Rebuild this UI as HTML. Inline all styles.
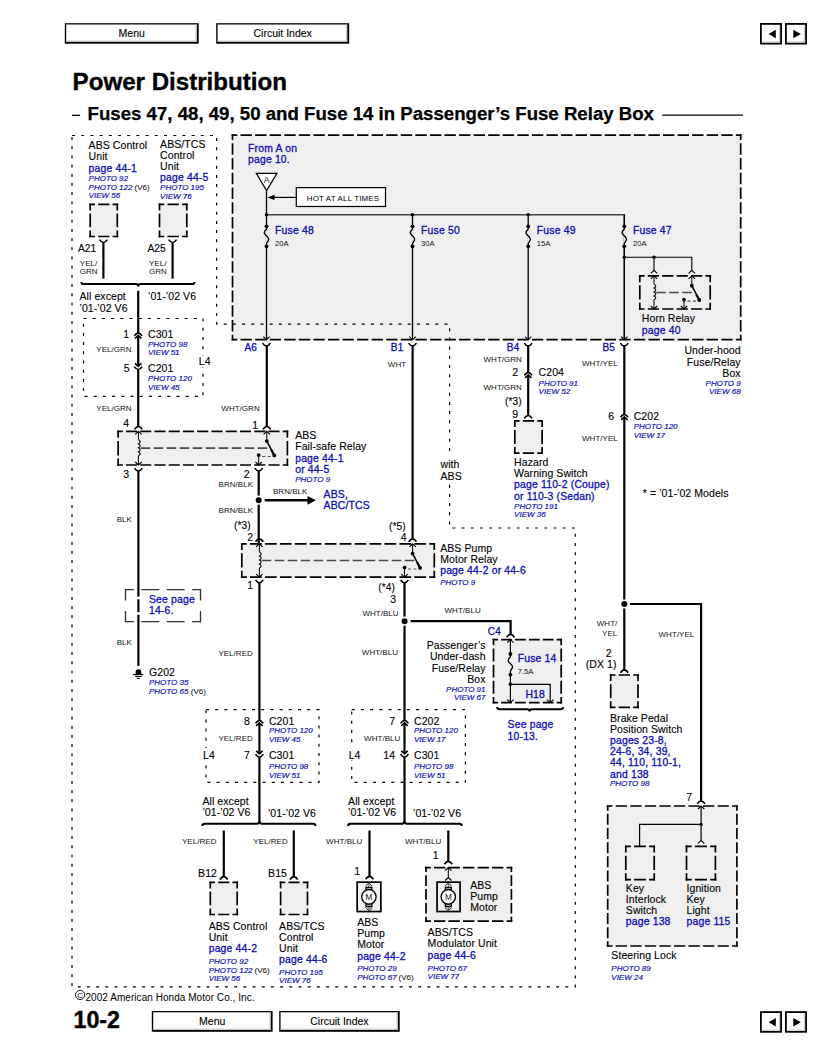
<!DOCTYPE html>
<html><head><meta charset="utf-8"><style>
html,body{margin:0;padding:0;background:#fff;width:816px;height:1056px;overflow:hidden}
svg{display:block}
text{font-family:"Liberation Sans",sans-serif}
</style></head><body>
<svg width="816" height="1056" viewBox="0 0 816 1056">
<rect x="64.8" y="23.2" width="133.89999999999998" height="20.500000000000004" fill="#000"/>
<rect x="66.2" y="24.5" width="130.49999999999997" height="17.200000000000003" fill="#fff"/>
<rect x="66.2" y="40.5" width="130.49999999999997" height="1.2" fill="#c8c8c8"/>
<rect x="195.5" y="24.5" width="1.2" height="17.200000000000003" fill="#c8c8c8"/>
<text x="131.75" y="37.10" style="font-size:10.5px;" fill="#000" text-anchor="middle" letter-spacing="0" stroke="#000" stroke-width="0.12">Menu</text>
<rect x="216.2" y="23.2" width="133.0" height="20.500000000000004" fill="#000"/>
<rect x="217.6" y="24.5" width="129.6" height="17.200000000000003" fill="#fff"/>
<rect x="217.6" y="40.5" width="129.6" height="1.2" fill="#c8c8c8"/>
<rect x="346.0" y="24.5" width="1.2" height="17.200000000000003" fill="#c8c8c8"/>
<text x="282.7" y="37.10" style="font-size:10.5px;" fill="#000" text-anchor="middle" letter-spacing="0" stroke="#000" stroke-width="0.12">Circuit Index</text>
<rect x="760.9" y="23.9" width="20.2" height="19.7" fill="#fff" stroke="#000" stroke-width="1.8"/>
<line x1="762.5" y1="41.9" x2="780" y2="41.9" stroke="#c8c8c8" stroke-width="1"/>
<line x1="779.4" y1="25.5" x2="779.4" y2="42.5" stroke="#c8c8c8" stroke-width="1"/>
<path d="M768.7,34 L775.8,29.8 L775.8,38.2 Z" fill="#000"/>
<rect x="785.9" y="23.9" width="20.2" height="19.7" fill="#fff" stroke="#000" stroke-width="1.8"/>
<line x1="787.5" y1="41.9" x2="805" y2="41.9" stroke="#c8c8c8" stroke-width="1"/>
<line x1="804.4" y1="25.5" x2="804.4" y2="42.5" stroke="#c8c8c8" stroke-width="1"/>
<path d="M793.3,29.8 L800.8,34 L793.3,38.2 Z" fill="#000"/>
<text x="72.6" y="90.10" style="font-size:23.6px;font-weight:bold;" fill="#000" textLength="214.4" lengthAdjust="spacingAndGlyphs" stroke="#000" stroke-width="0.35">Power Distribution</text>
<line x1="72" y1="115.3" x2="80.1" y2="115.3" stroke="#000" stroke-width="1.3" />
<text x="87.6" y="119.90" style="font-size:18.9px;font-weight:bold;" fill="#000" textLength="566.4" lengthAdjust="spacingAndGlyphs" stroke="#000" stroke-width="0.25">Fuses 47, 48, 49, 50 and Fuse 14 in Passenger&#8217;s Fuse Relay Box</text>
<line x1="662.3" y1="115.2" x2="743" y2="115.2" stroke="#000" stroke-width="1.2" />
<rect x="232.5" y="135.2" width="508.20000000000005" height="204.5" fill="#efefef"/>
<path d="M231.65,135.20L237.33,135.20M240.53,135.20L251.90,135.20M255.10,135.20L266.47,135.20M269.67,135.20L281.04,135.20M284.24,135.20L295.61,135.20M298.81,135.20L310.18,135.20M313.38,135.20L324.75,135.20M327.95,135.20L339.31,135.20M342.51,135.20L353.88,135.20M357.08,135.20L368.45,135.20M371.65,135.20L383.02,135.20M386.22,135.20L397.59,135.20M400.79,135.20L412.16,135.20M415.36,135.20L426.73,135.20M429.93,135.20L441.29,135.20M444.49,135.20L455.86,135.20M459.06,135.20L470.43,135.20M473.63,135.20L485.00,135.20M488.20,135.20L499.57,135.20M502.77,135.20L514.14,135.20M517.34,135.20L528.71,135.20M531.91,135.20L543.27,135.20M546.47,135.20L557.84,135.20M561.04,135.20L572.41,135.20M575.61,135.20L586.98,135.20M590.18,135.20L601.55,135.20M604.75,135.20L616.12,135.20M619.32,135.20L630.69,135.20M633.89,135.20L645.25,135.20M648.45,135.20L659.82,135.20M663.02,135.20L674.39,135.20M677.59,135.20L688.96,135.20M692.16,135.20L703.53,135.20M706.73,135.20L718.10,135.20M721.30,135.20L732.67,135.20M735.87,135.20L741.55,135.20" stroke="#000" stroke-width="1.7" fill="none" stroke-linecap="butt"/>
<path d="M231.65,339.70L237.33,339.70M240.53,339.70L251.90,339.70M255.10,339.70L266.47,339.70M269.67,339.70L281.04,339.70M284.24,339.70L295.61,339.70M298.81,339.70L310.18,339.70M313.38,339.70L324.75,339.70M327.95,339.70L339.31,339.70M342.51,339.70L353.88,339.70M357.08,339.70L368.45,339.70M371.65,339.70L383.02,339.70M386.22,339.70L397.59,339.70M400.79,339.70L412.16,339.70M415.36,339.70L426.73,339.70M429.93,339.70L441.29,339.70M444.49,339.70L455.86,339.70M459.06,339.70L470.43,339.70M473.63,339.70L485.00,339.70M488.20,339.70L499.57,339.70M502.77,339.70L514.14,339.70M517.34,339.70L528.71,339.70M531.91,339.70L543.27,339.70M546.47,339.70L557.84,339.70M561.04,339.70L572.41,339.70M575.61,339.70L586.98,339.70M590.18,339.70L601.55,339.70M604.75,339.70L616.12,339.70M619.32,339.70L630.69,339.70M633.89,339.70L645.25,339.70M648.45,339.70L659.82,339.70M663.02,339.70L674.39,339.70M677.59,339.70L688.96,339.70M692.16,339.70L703.53,339.70M706.73,339.70L718.10,339.70M721.30,339.70L732.67,339.70M735.87,339.70L741.55,339.70" stroke="#000" stroke-width="1.7" fill="none" stroke-linecap="butt"/>
<path d="M232.50,134.35L232.50,140.11M232.50,143.31L232.50,154.84M232.50,158.04L232.50,169.57M232.50,172.77L232.50,184.30M232.50,187.50L232.50,199.03M232.50,202.23L232.50,213.76M232.50,216.96L232.50,228.49M232.50,231.69L232.50,243.21M232.50,246.41L232.50,257.94M232.50,261.14L232.50,272.67M232.50,275.87L232.50,287.40M232.50,290.60L232.50,302.13M232.50,305.33L232.50,316.86M232.50,320.06L232.50,331.59M232.50,334.79L232.50,340.55" stroke="#000" stroke-width="1.7" fill="none" stroke-linecap="butt"/>
<path d="M740.70,134.35L740.70,140.11M740.70,143.31L740.70,154.84M740.70,158.04L740.70,169.57M740.70,172.77L740.70,184.30M740.70,187.50L740.70,199.03M740.70,202.23L740.70,213.76M740.70,216.96L740.70,228.49M740.70,231.69L740.70,243.21M740.70,246.41L740.70,257.94M740.70,261.14L740.70,272.67M740.70,275.87L740.70,287.40M740.70,290.60L740.70,302.13M740.70,305.33L740.70,316.86M740.70,320.06L740.70,331.59M740.70,334.79L740.70,340.55" stroke="#000" stroke-width="1.7" fill="none" stroke-linecap="butt"/>
<polyline points="72,135.5 216.6,135.5 216.6,324.2 449.6,324.2 449.6,528 575.3,528 575.3,986.8 72,986.8 72,135.5" fill="none" stroke="#000" stroke-width="1.2" stroke-dasharray="3 6.2"/>
<text x="248" y="152.40" style="font-size:10.4px;" fill="#0e0eb8" stroke="#0e0eb8" stroke-width="0.3" letter-spacing="0.2">From A on</text>
<text x="248" y="163.40" style="font-size:10.4px;" fill="#0e0eb8" stroke="#0e0eb8" stroke-width="0.3" letter-spacing="0.18">page 10.</text>
<path d="M256.3,173.3 L277,173.3 L266.6,190.5 Z" fill="#fff" stroke="#000" stroke-width="1.2"/>
<text x="266.6" y="183.00" style="font-size:8.6px;" fill="#111" text-anchor="middle" letter-spacing="0">A</text>
<line x1="266.5" y1="190.5" x2="266.5" y2="339.7" stroke="#000" stroke-width="1.3" />
<rect x="296.3" y="187.6" width="89.2" height="18.9" fill="#fff" stroke="#000" stroke-width="1.2"/>
<text x="306.8" y="201.10" style="font-size:7.9px;" fill="#000" letter-spacing="0.2">HOT AT ALL TIMES</text>
<line x1="272" y1="197.4" x2="296.3" y2="197.4" stroke="#000" stroke-width="1.2" />
<path d="M267.5,197.4 L274.5,194.8 L274.5,200 Z" fill="#000"/>
<polyline points="266.5,214.8 624.3,214.8 624.3,339.7" fill="none" stroke="#444" stroke-width="1.5" stroke-linejoin="miter"/>
<circle cx="266.5" cy="214.8" r="1.8" fill="#000"/>
<circle cx="412.5" cy="214.8" r="1.8" fill="#000"/>
<circle cx="528.2" cy="214.8" r="1.8" fill="#000"/>
<line x1="412.5" y1="214.8" x2="412.5" y2="339.7" stroke="#000" stroke-width="1.3" />
<line x1="528.2" y1="214.8" x2="528.2" y2="339.7" stroke="#000" stroke-width="1.3" />
<line x1="624.3" y1="214.8" x2="624.3" y2="339.7" stroke="#000" stroke-width="1.3" />
<rect x="265.5" y="226" width="2" height="21" fill="#efefef"/>
<path d="M266.5,226.3 L266.5,229.3 C265.0,230.5 263.9,232.0 264.4,233.5 C265.0,235.20000000000002 268.6,237.0 268.7,239.0 C268.8,241.0 266.5,242.3 266.5,243.8 L266.5,246.3" fill="none" stroke="#000" stroke-width="1.3"/>
<circle cx="266.5" cy="226.3" r="1.9" fill="#000"/>
<circle cx="266.5" cy="246.3" r="1.9" fill="#000"/>
<text x="275.1" y="234.20" style="font-size:10.4px;" fill="#0e0eb8" stroke="#0e0eb8" stroke-width="0.3" letter-spacing="0.18">Fuse 48</text>
<text x="275.1" y="245.90" style="font-size:7.6px;" fill="#111"  letter-spacing="0.03">20A</text>
<rect x="411.5" y="226" width="2" height="21" fill="#efefef"/>
<path d="M412.5,226.3 L412.5,229.3 C411.0,230.5 409.9,232.0 410.4,233.5 C411.0,235.20000000000002 414.6,237.0 414.7,239.0 C414.8,241.0 412.5,242.3 412.5,243.8 L412.5,246.3" fill="none" stroke="#000" stroke-width="1.3"/>
<circle cx="412.5" cy="226.3" r="1.9" fill="#000"/>
<circle cx="412.5" cy="246.3" r="1.9" fill="#000"/>
<text x="421.1" y="234.20" style="font-size:10.4px;" fill="#0e0eb8" stroke="#0e0eb8" stroke-width="0.3" letter-spacing="0.18">Fuse 50</text>
<text x="421.1" y="245.90" style="font-size:7.6px;" fill="#111"  letter-spacing="0.03">30A</text>
<rect x="527.2" y="226" width="2" height="21" fill="#efefef"/>
<path d="M528.2,226.3 L528.2,229.3 C526.7,230.5 525.6,232.0 526.1,233.5 C526.7,235.20000000000002 530.3000000000001,237.0 530.4000000000001,239.0 C530.5,241.0 528.2,242.3 528.2,243.8 L528.2,246.3" fill="none" stroke="#000" stroke-width="1.3"/>
<circle cx="528.2" cy="226.3" r="1.9" fill="#000"/>
<circle cx="528.2" cy="246.3" r="1.9" fill="#000"/>
<text x="536.8000000000001" y="234.20" style="font-size:10.4px;" fill="#0e0eb8" stroke="#0e0eb8" stroke-width="0.3" letter-spacing="0.18">Fuse 49</text>
<text x="536.8000000000001" y="245.90" style="font-size:7.6px;" fill="#111"  letter-spacing="0.03">15A</text>
<rect x="623.3" y="226" width="2" height="21" fill="#efefef"/>
<path d="M624.3,226.3 L624.3,229.3 C622.8,230.5 621.6999999999999,232.0 622.1999999999999,233.5 C622.8,235.20000000000002 626.4,237.0 626.5,239.0 C626.5999999999999,241.0 624.3,242.3 624.3,243.8 L624.3,246.3" fill="none" stroke="#000" stroke-width="1.3"/>
<circle cx="624.3" cy="226.3" r="1.9" fill="#000"/>
<circle cx="624.3" cy="246.3" r="1.9" fill="#000"/>
<text x="632.9" y="234.20" style="font-size:10.4px;" fill="#0e0eb8" stroke="#0e0eb8" stroke-width="0.3" letter-spacing="0.18">Fuse 47</text>
<text x="632.9" y="245.90" style="font-size:7.6px;" fill="#111"  letter-spacing="0.03">20A</text>
<circle cx="624.3" cy="257.2" r="1.7" fill="#000"/>
<circle cx="654" cy="257.2" r="1.7" fill="#000"/>
<polyline points="624.3,257.2 691.8,257.2 691.8,270.3" fill="none" stroke="#000" stroke-width="1.1" stroke-linejoin="miter"/>
<line x1="654" y1="257.2" x2="654" y2="270.3" stroke="#000" stroke-width="1.1" />
<path d="M650.8,273.3 L654,270.3 L657.2,273.3" fill="none" stroke="#000" stroke-width="1.1"/>
<path d="M688.5999999999999,273.3 L691.8,270.3 L695.0,273.3" fill="none" stroke="#000" stroke-width="1.1"/>
<rect x="639.8" y="275.9" width="70.40000000000009" height="33.10000000000002" fill="#efefef"/>
<path d="M638.95,275.90L644.56,275.90M647.76,275.90L658.98,275.90M662.18,275.90L673.40,275.90M676.60,275.90L687.82,275.90M691.02,275.90L702.24,275.90M705.44,275.90L711.05,275.90" stroke="#000" stroke-width="1.7" fill="none" stroke-linecap="butt"/>
<path d="M638.95,309.00L644.56,309.00M647.76,309.00L658.98,309.00M662.18,309.00L673.40,309.00M676.60,309.00L687.82,309.00M691.02,309.00L702.24,309.00M705.44,309.00L711.05,309.00" stroke="#000" stroke-width="1.7" fill="none" stroke-linecap="butt"/>
<path d="M639.80,275.05L639.80,282.15M639.80,285.35L639.80,299.55M639.80,302.75L639.80,309.85" stroke="#000" stroke-width="1.7" fill="none" stroke-linecap="butt"/>
<path d="M710.20,275.05L710.20,282.15M710.20,285.35L710.20,299.55M710.20,302.75L710.20,309.85" stroke="#000" stroke-width="1.7" fill="none" stroke-linecap="butt"/>
<line x1="656.3" y1="292.45" x2="694.5999999999999" y2="292.45" stroke="#4a4a4a" stroke-width="1.6" stroke-dasharray="9.5 3.5"/>
<line x1="654" y1="275.9" x2="654" y2="284.2" stroke="#000" stroke-width="1.0" />
<path d="M654,284.2 Q657.6,286.15 654,288.1 Q657.6,290.05 654,292.0 Q657.6,293.95 654,295.9 Q657.6,297.84999999999997 654,299.79999999999995" fill="none" stroke="#000" stroke-width="1.1"/>
<line x1="654" y1="299.8" x2="654" y2="309" stroke="#000" stroke-width="1.0" />
<path d="M650.8,278.9 L654,275.9 L657.2,278.9" fill="none" stroke="#000" stroke-width="1.1"/>
<path d="M650.8,306 L654,309 L657.2,306" fill="none" stroke="#000" stroke-width="1.1"/>
<path d="M688.5999999999999,278.9 L691.8,275.9 L695.0,278.9" fill="none" stroke="#000" stroke-width="1.1"/>
<line x1="691.8" y1="275.9" x2="691.8" y2="285.7" stroke="#000" stroke-width="1.0" />
<circle cx="691.8" cy="285.7" r="1.9" fill="#000"/>
<line x1="691.8" y1="285.7" x2="699.3" y2="300.0" stroke="#000" stroke-width="1.5" />
<line x1="696.3" y1="294.4" x2="699.3" y2="300.0" stroke="#000" stroke-width="2.2" />
<circle cx="699.3" cy="300.0" r="1.9" fill="#000"/>
<circle cx="684" cy="299.7" r="1.9" fill="#000"/>
<line x1="684" y1="299.7" x2="684" y2="309" stroke="#000" stroke-width="1.0" />
<path d="M680.8,306 L684,309 L687.2,306" fill="none" stroke="#000" stroke-width="1.1"/>
<line x1="687.5" y1="301.09999999999997" x2="697.8" y2="301.09999999999997" stroke="#555" stroke-width="1.2" stroke-dasharray="3 2.5"/>
<text x="641.8" y="321.80" style="font-size:10.5px;" fill="#000"  letter-spacing="0.08" stroke="#000" stroke-width="0.12">Horn Relay</text>
<text x="641.8" y="334.10" style="font-size:10.4px;" fill="#0e0eb8" stroke="#0e0eb8" stroke-width="0.3" letter-spacing="0.18">page 40</text>
<path d="M263.3,336.7 L266.5,339.7 L269.7,336.7" fill="none" stroke="#000" stroke-width="1.1"/>
<path d="M262.6,343.1 Q266.5,348.9 270.4,343.1" fill="none" stroke="#000" stroke-width="1.7"/>
<path d="M409.3,336.7 L412.5,339.7 L415.7,336.7" fill="none" stroke="#000" stroke-width="1.1"/>
<path d="M408.6,343.1 Q412.5,348.9 416.4,343.1" fill="none" stroke="#000" stroke-width="1.7"/>
<path d="M525.0,336.7 L528.2,339.7 L531.4000000000001,336.7" fill="none" stroke="#000" stroke-width="1.1"/>
<path d="M524.3000000000001,343.1 Q528.2,348.9 532.1,343.1" fill="none" stroke="#000" stroke-width="1.7"/>
<path d="M621.0999999999999,336.7 L624.3,339.7 L627.5,336.7" fill="none" stroke="#000" stroke-width="1.1"/>
<path d="M620.4,343.1 Q624.3,348.9 628.1999999999999,343.1" fill="none" stroke="#000" stroke-width="1.7"/>
<text x="244.5" y="350.90" style="font-size:10px;" fill="#0e0eb8" stroke="#0e0eb8" stroke-width="0.3" letter-spacing="0.18">A6</text>
<text x="390.8" y="351.40" style="font-size:10px;" fill="#0e0eb8" stroke="#0e0eb8" stroke-width="0.3" letter-spacing="0.18">B1</text>
<text x="506.8" y="350.70" style="font-size:10px;" fill="#0e0eb8" stroke="#0e0eb8" stroke-width="0.3" letter-spacing="0.18">B4</text>
<text x="602.4" y="351.20" style="font-size:10px;" fill="#0e0eb8" stroke="#0e0eb8" stroke-width="0.3" letter-spacing="0.18">B5</text>
<text x="740.6800000000001" y="354.10" style="font-size:10.5px;" fill="#000" text-anchor="end"  letter-spacing="0.08" stroke="#000" stroke-width="0.12">Under-hood</text>
<text x="740.6800000000001" y="365.70" style="font-size:10.5px;" fill="#000" text-anchor="end"  letter-spacing="0.08" stroke="#000" stroke-width="0.12">Fuse/Relay</text>
<text x="740.6800000000001" y="377.10" style="font-size:10.5px;" fill="#000" text-anchor="end"  letter-spacing="0.08" stroke="#000" stroke-width="0.12">Box</text>
<text x="740.6" y="385.90" style="font-size:8px;font-style:italic;" fill="#0e0eb8" text-anchor="end" stroke="#0e0eb8" stroke-width="0.18" letter-spacing="0">PHOTO 9</text>
<text x="740.6" y="394.40" style="font-size:8px;font-style:italic;" fill="#0e0eb8" text-anchor="end" stroke="#0e0eb8" stroke-width="0.18" letter-spacing="0">VIEW 68</text>
<text x="88.6" y="148.80" style="font-size:10.5px;" fill="#000"  letter-spacing="0.08" stroke="#000" stroke-width="0.12">ABS Control</text>
<text x="88.6" y="159.80" style="font-size:10.5px;" fill="#000"  letter-spacing="0.08" stroke="#000" stroke-width="0.12">Unit</text>
<text x="88.6" y="171.80" style="font-size:10.4px;" fill="#0e0eb8" stroke="#0e0eb8" stroke-width="0.3" letter-spacing="0.18">page 44-1</text>
<text x="88.6" y="180.90" style="font-size:8px;font-style:italic;" fill="#0e0eb8" stroke="#0e0eb8" stroke-width="0.18" letter-spacing="0">PHOTO 92</text>
<text x="88.6" y="189.90" style="font-size:8px;font-style:italic;" fill="#0e0eb8" stroke="#0e0eb8" stroke-width="0.18" letter-spacing="0">PHOTO 122</text>
<text x="134.5" y="189.90" style="font-size:8px;" fill="#000"  letter-spacing="0.03">(V6)</text>
<text x="88.6" y="198.00" style="font-size:8px;font-style:italic;" fill="#0e0eb8" stroke="#0e0eb8" stroke-width="0.18" letter-spacing="0">VIEW 56</text>
<text x="160.1" y="148.30" style="font-size:10.5px;" fill="#000"  letter-spacing="0.08" stroke="#000" stroke-width="0.12">ABS/TCS</text>
<text x="160.1" y="158.80" style="font-size:10.5px;" fill="#000"  letter-spacing="0.08" stroke="#000" stroke-width="0.12">Control</text>
<text x="160.1" y="169.70" style="font-size:10.5px;" fill="#000"  letter-spacing="0.08" stroke="#000" stroke-width="0.12">Unit</text>
<text x="160.1" y="181.40" style="font-size:10.4px;" fill="#0e0eb8" stroke="#0e0eb8" stroke-width="0.3" letter-spacing="0.18">page 44-5</text>
<text x="160.1" y="190.30" style="font-size:8px;font-style:italic;" fill="#0e0eb8" stroke="#0e0eb8" stroke-width="0.18" letter-spacing="0">PHOTO 195</text>
<text x="160.1" y="199.20" style="font-size:8px;font-style:italic;" fill="#0e0eb8" stroke="#0e0eb8" stroke-width="0.18" letter-spacing="0">VIEW 76</text>
<rect x="90.2" y="204.4" width="27.099999999999994" height="32.099999999999994" fill="#efefef"/>
<path d="M89.35,204.40L94.95,204.40M98.15,204.40L109.35,204.40M112.55,204.40L118.15,204.40" stroke="#000" stroke-width="1.7" fill="none" stroke-linecap="butt"/>
<path d="M89.35,236.50L94.95,236.50M98.15,236.50L109.35,236.50M112.55,236.50L118.15,236.50" stroke="#000" stroke-width="1.7" fill="none" stroke-linecap="butt"/>
<path d="M90.20,203.55L90.20,210.40M90.20,213.60L90.20,227.30M90.20,230.50L90.20,237.35" stroke="#000" stroke-width="1.7" fill="none" stroke-linecap="butt"/>
<path d="M117.30,203.55L117.30,210.40M117.30,213.60L117.30,227.30M117.30,230.50L117.30,237.35" stroke="#000" stroke-width="1.7" fill="none" stroke-linecap="butt"/>
<rect x="159.5" y="204.4" width="27.30000000000001" height="32.099999999999994" fill="#efefef"/>
<path d="M158.65,204.40L164.30,204.40M167.50,204.40L178.80,204.40M182.00,204.40L187.65,204.40" stroke="#000" stroke-width="1.7" fill="none" stroke-linecap="butt"/>
<path d="M158.65,236.50L164.30,236.50M167.50,236.50L178.80,236.50M182.00,236.50L187.65,236.50" stroke="#000" stroke-width="1.7" fill="none" stroke-linecap="butt"/>
<path d="M159.50,203.55L159.50,210.40M159.50,213.60L159.50,227.30M159.50,230.50L159.50,237.35" stroke="#000" stroke-width="1.7" fill="none" stroke-linecap="butt"/>
<path d="M186.80,203.55L186.80,210.40M186.80,213.60L186.80,227.30M186.80,230.50L186.80,237.35" stroke="#000" stroke-width="1.7" fill="none" stroke-linecap="butt"/>
<path d="M99.5,239.6 Q103.4,245.4 107.30000000000001,239.6" fill="none" stroke="#000" stroke-width="1.7"/>
<line x1="103.4" y1="242.5" x2="103.4" y2="278.6" stroke="#000" stroke-width="2.2" />
<path d="M168.7,239.6 Q172.6,245.4 176.5,239.6" fill="none" stroke="#000" stroke-width="1.7"/>
<line x1="172.6" y1="242.5" x2="172.6" y2="278.6" stroke="#000" stroke-width="2.2" />
<text x="78" y="252.40" style="font-size:10.2px;" fill="#000"  letter-spacing="0.08" stroke="#000" stroke-width="0.12">A21</text>
<text x="147.5" y="252.40" style="font-size:10.2px;" fill="#000"  letter-spacing="0.08" stroke="#000" stroke-width="0.12">A25</text>
<text x="79.8" y="265.80" style="font-size:8px;" fill="#111"  letter-spacing="0.03">YEL/</text>
<text x="79.8" y="274.20" style="font-size:8px;" fill="#111"  letter-spacing="0.03">GRN</text>
<text x="149" y="265.80" style="font-size:8px;" fill="#111"  letter-spacing="0.03">YEL/</text>
<text x="149" y="274.20" style="font-size:8px;" fill="#111"  letter-spacing="0.03">GRN</text>
<path d="M81.4,281.90000000000003 Q81.4,284.1 83.80000000000001,284.1 L135.79999999999998,284.1 Q138.2,284.1 138.2,286.5 M138.2,286.5 Q138.2,284.1 140.6,284.1 L192.0,284.1 Q194.4,284.1 194.4,281.90000000000003" fill="none" stroke="#000" stroke-width="2.0"/>
<text x="79.5" y="300.40" style="font-size:10.5px;" fill="#000"  letter-spacing="0.08" stroke="#000" stroke-width="0.12">All except</text>
<text x="79.5" y="311.70" style="font-size:10.5px;" fill="#000"  letter-spacing="0.08" stroke="#000" stroke-width="0.12">&#8217;01-&#8217;02 V6</text>
<text x="148" y="300.40" style="font-size:10.5px;" fill="#000"  letter-spacing="0.08" stroke="#000" stroke-width="0.12">&#8217;01-&#8217;02 V6</text>
<polyline points="83.5,318.5 203,318.5 203,396.3 83.5,396.3 83.5,318.5" fill="none" stroke="#000" stroke-width="1.2" stroke-dasharray="3 6.2"/>
<line x1="138.2" y1="290.8" x2="138.2" y2="333" stroke="#000" stroke-width="2.2" />
<path d="M134.29999999999998,335.9 Q138.2,330.1 142.1,335.9" fill="none" stroke="#000" stroke-width="1.7"/>
<path d="M135.0,338.3 L138.2,335.3 L141.39999999999998,338.3" fill="none" stroke="#000" stroke-width="1.6"/>
<line x1="138.2" y1="335.8" x2="138.2" y2="366" stroke="#000" stroke-width="2.2" />
<path d="M135.0,363.3 L138.2,366.3 L141.39999999999998,363.3" fill="none" stroke="#000" stroke-width="1.6"/>
<path d="M134.29999999999998,366.6 Q138.2,372.4 142.1,366.6" fill="none" stroke="#000" stroke-width="1.7"/>
<line x1="138.2" y1="369.5" x2="138.2" y2="426.3" stroke="#000" stroke-width="2.2" />
<text x="129.08" y="338.40" style="font-size:10.5px;" fill="#000" text-anchor="end"  letter-spacing="0.08" stroke="#000" stroke-width="0.12">1</text>
<text x="148" y="338.40" style="font-size:10.5px;" fill="#000"  letter-spacing="0.08" stroke="#000" stroke-width="0.12">C301</text>
<text x="148" y="347.20" style="font-size:8px;font-style:italic;" fill="#0e0eb8" stroke="#0e0eb8" stroke-width="0.18" letter-spacing="0">PHOTO 98</text>
<text x="148" y="355.40" style="font-size:8px;font-style:italic;" fill="#0e0eb8" stroke="#0e0eb8" stroke-width="0.18" letter-spacing="0">VIEW 51</text>
<text x="96.3" y="351.70" style="font-size:8px;" fill="#111"  letter-spacing="0.03">YEL/GRN</text>
<text x="129.58" y="372.20" style="font-size:10.5px;" fill="#000" text-anchor="end"  letter-spacing="0.08" stroke="#000" stroke-width="0.12">5</text>
<text x="148" y="372.20" style="font-size:10.5px;" fill="#000"  letter-spacing="0.08" stroke="#000" stroke-width="0.12">C201</text>
<text x="148" y="381.20" style="font-size:8px;font-style:italic;" fill="#0e0eb8" stroke="#0e0eb8" stroke-width="0.18" letter-spacing="0">PHOTO 120</text>
<text x="148" y="389.70" style="font-size:8px;font-style:italic;" fill="#0e0eb8" stroke="#0e0eb8" stroke-width="0.18" letter-spacing="0">VIEW 45</text>
<rect x="197" y="356" width="14" height="11" fill="#fff"/>
<text x="198.8" y="365.40" style="font-size:10.5px;" fill="#000"  letter-spacing="0.08" stroke="#000" stroke-width="0.12">L4</text>
<text x="96.3" y="410.90" style="font-size:8px;" fill="#111"  letter-spacing="0.03">YEL/GRN</text>
<text x="221.3" y="410.90" style="font-size:8px;" fill="#111"  letter-spacing="0.03">WHT/GRN</text>
<text x="129.08" y="427.20" style="font-size:10.5px;" fill="#000" text-anchor="end"  letter-spacing="0.08" stroke="#000" stroke-width="0.12">4</text>
<text x="258.08" y="429.00" style="font-size:10.5px;" fill="#000" text-anchor="end"  letter-spacing="0.08" stroke="#000" stroke-width="0.12">1</text>
<line x1="266.8" y1="346" x2="266.8" y2="426.3" stroke="#000" stroke-width="2.2" />
<path d="M134.5,429.4 Q138.4,423.6 142.3,429.4" fill="none" stroke="#000" stroke-width="1.7"/>
<path d="M262.90000000000003,429.4 Q266.8,423.6 270.7,429.4" fill="none" stroke="#000" stroke-width="1.7"/>
<rect x="118.1" y="431.3" width="169.29999999999998" height="33.69999999999999" fill="#efefef"/>
<path d="M117.25,431.30L122.78,431.30M125.97,431.30L137.03,431.30M140.22,431.30L151.28,431.30M154.47,431.30L165.53,431.30M168.72,431.30L179.78,431.30M182.97,431.30L194.02,431.30M197.22,431.30L208.27,431.30M211.47,431.30L222.52,431.30M225.72,431.30L236.77,431.30M239.97,431.30L251.03,431.30M254.22,431.30L265.27,431.30M268.48,431.30L279.52,431.30M282.73,431.30L288.25,431.30" stroke="#000" stroke-width="1.7" fill="none" stroke-linecap="butt"/>
<path d="M117.25,465.00L122.78,465.00M125.97,465.00L137.03,465.00M140.22,465.00L151.28,465.00M154.47,465.00L165.53,465.00M168.72,465.00L179.78,465.00M182.97,465.00L194.02,465.00M197.22,465.00L208.27,465.00M211.47,465.00L222.52,465.00M225.72,465.00L236.77,465.00M239.97,465.00L251.03,465.00M254.22,465.00L265.27,465.00M268.48,465.00L279.52,465.00M282.73,465.00L288.25,465.00" stroke="#000" stroke-width="1.7" fill="none" stroke-linecap="butt"/>
<path d="M118.10,430.45L118.10,437.70M118.10,440.90L118.10,455.40M118.10,458.60L118.10,465.85" stroke="#000" stroke-width="1.7" fill="none" stroke-linecap="butt"/>
<path d="M287.40,430.45L287.40,437.70M287.40,440.90L287.40,455.40M287.40,458.60L287.40,465.85" stroke="#000" stroke-width="1.7" fill="none" stroke-linecap="butt"/>
<line x1="140.70000000000002" y1="448.15" x2="269.6" y2="448.15" stroke="#4a4a4a" stroke-width="1.6" stroke-dasharray="9.5 3.5"/>
<line x1="138.4" y1="431.3" x2="138.4" y2="439.6" stroke="#000" stroke-width="1.0" />
<path d="M138.4,439.6 Q142.0,441.625 138.4,443.65000000000003 Q142.0,445.675 138.4,447.70000000000005 Q142.0,449.725 138.4,451.75000000000006 Q142.0,453.775 138.4,455.8" fill="none" stroke="#000" stroke-width="1.1"/>
<line x1="138.4" y1="455.8" x2="138.4" y2="465" stroke="#000" stroke-width="1.0" />
<path d="M135.20000000000002,434.3 L138.4,431.3 L141.6,434.3" fill="none" stroke="#000" stroke-width="1.1"/>
<path d="M135.20000000000002,462 L138.4,465 L141.6,462" fill="none" stroke="#000" stroke-width="1.1"/>
<path d="M263.6,434.3 L266.8,431.3 L270.0,434.3" fill="none" stroke="#000" stroke-width="1.1"/>
<line x1="266.8" y1="431.3" x2="266.8" y2="441.1" stroke="#000" stroke-width="1.0" />
<circle cx="266.8" cy="441.1" r="1.9" fill="#000"/>
<line x1="266.8" y1="441.1" x2="274.3" y2="455.40000000000003" stroke="#000" stroke-width="1.5" />
<line x1="271.3" y1="449.8" x2="274.3" y2="455.40000000000003" stroke="#000" stroke-width="2.2" />
<circle cx="274.3" cy="455.40000000000003" r="1.9" fill="#000"/>
<circle cx="258.7" cy="455.1" r="1.9" fill="#000"/>
<line x1="258.7" y1="455.1" x2="258.7" y2="465" stroke="#000" stroke-width="1.0" />
<path d="M255.5,462 L258.7,465 L261.9,462" fill="none" stroke="#000" stroke-width="1.1"/>
<line x1="262.2" y1="456.5" x2="272.8" y2="456.5" stroke="#555" stroke-width="1.2" stroke-dasharray="3 2.5"/>
<path d="M134.5,468.1 Q138.4,473.9 142.3,468.1" fill="none" stroke="#000" stroke-width="1.7"/>
<path d="M254.79999999999998,468.1 Q258.7,473.9 262.59999999999997,468.1" fill="none" stroke="#000" stroke-width="1.7"/>
<text x="129.08" y="477.90" style="font-size:10.5px;" fill="#000" text-anchor="end"  letter-spacing="0.08" stroke="#000" stroke-width="0.12">3</text>
<text x="249.58" y="477.90" style="font-size:10.5px;" fill="#000" text-anchor="end"  letter-spacing="0.08" stroke="#000" stroke-width="0.12">2</text>
<text x="295.2" y="438.90" style="font-size:10.5px;" fill="#000"  letter-spacing="0.08" stroke="#000" stroke-width="0.12">ABS</text>
<text x="295.2" y="450.20" style="font-size:10.5px;" fill="#000"  letter-spacing="0.08" stroke="#000" stroke-width="0.12">Fail-safe Relay</text>
<text x="295.2" y="461.70" style="font-size:10.4px;" fill="#0e0eb8" stroke="#0e0eb8" stroke-width="0.3" letter-spacing="0.18">page 44-1</text>
<text x="295.2" y="472.80" style="font-size:10.4px;" fill="#0e0eb8" stroke="#0e0eb8" stroke-width="0.3" letter-spacing="0.18">or 44-5</text>
<text x="295.2" y="482.10" style="font-size:8px;font-style:italic;" fill="#0e0eb8" stroke="#0e0eb8" stroke-width="0.18" letter-spacing="0">PHOTO 9</text>
<line x1="138.4" y1="471" x2="138.4" y2="666" stroke="#000" stroke-width="2.2" />
<text x="116.7" y="522.30" style="font-size:8px;" fill="#111"  letter-spacing="0.03">BLK</text>
<rect x="136" y="596.6" width="5" height="2.7" fill="#fff"/><rect x="136" y="612.1" width="5" height="2.7" fill="#fff"/>
<path d="M124.90,589.70L133.85,589.70M141.35,589.70L159.25,589.70M166.75,589.70L184.65,589.70M192.15,589.70L201.10,589.70" stroke="#333" stroke-width="1.3" fill="none" stroke-linecap="butt"/>
<path d="M124.90,621.70L133.85,621.70M141.35,621.70L159.25,621.70M166.75,621.70L184.65,621.70M192.15,621.70L201.10,621.70" stroke="#333" stroke-width="1.3" fill="none" stroke-linecap="butt"/>
<path d="M125.50,589.10L125.50,600.45M125.50,610.95L125.50,622.30" stroke="#333" stroke-width="1.3" fill="none" stroke-linecap="butt"/>
<path d="M200.50,589.10L200.50,600.45M200.50,610.95L200.50,622.30" stroke="#333" stroke-width="1.3" fill="none" stroke-linecap="butt"/>
<text x="149" y="602.60" style="font-size:10.4px;" fill="#0e0eb8" stroke="#0e0eb8" stroke-width="0.3" letter-spacing="0.18">See page</text>
<text x="149" y="613.80" style="font-size:10.4px;" fill="#0e0eb8" stroke="#0e0eb8" stroke-width="0.3" letter-spacing="0.18">14-6.</text>
<text x="116.7" y="645.00" style="font-size:8px;" fill="#111"  letter-spacing="0.03">BLK</text>
<path d="M135.6,674.5 L135.6,672.2 A2.85,2.85 0 0 1 141.3,672.2 L141.3,674.5 Z" fill="#000"/>
<line x1="133.1" y1="674.6" x2="143.2" y2="674.6" stroke="#000" stroke-width="1.2" />
<line x1="135.3" y1="676.5" x2="141.9" y2="676.5" stroke="#000" stroke-width="1.0" />
<line x1="136.7" y1="678.3" x2="140" y2="678.3" stroke="#000" stroke-width="1.0" />
<text x="149" y="676.10" style="font-size:10.5px;" fill="#000"  letter-spacing="0.08" stroke="#000" stroke-width="0.12">G202</text>
<text x="149" y="684.90" style="font-size:8px;font-style:italic;" fill="#0e0eb8" stroke="#0e0eb8" stroke-width="0.18" letter-spacing="0">PHOTO 35</text>
<text x="149" y="694.00" style="font-size:8px;font-style:italic;" fill="#0e0eb8" stroke="#0e0eb8" stroke-width="0.18" letter-spacing="0">PHOTO 65</text>
<text x="190.8" y="694.00" style="font-size:8px;" fill="#000"  letter-spacing="0.03">(V6)</text>
<line x1="258.7" y1="471" x2="258.7" y2="543.8" stroke="#000" stroke-width="2.2" />
<text x="218.6" y="486.70" style="font-size:8px;" fill="#111"  letter-spacing="0.03">BRN/BLK</text>
<text x="218.6" y="513.10" style="font-size:8px;" fill="#111"  letter-spacing="0.03">BRN/BLK</text>
<circle cx="258.7" cy="500.2" r="4.6" fill="#fff"/>
<circle cx="258.7" cy="500.2" r="3.0" fill="#000"/>
<line x1="264.7" y1="500.3" x2="309" y2="500.3" stroke="#000" stroke-width="2.5" />
<path d="M307.5,495.9 L315.9,500.3 L307.5,504.7 Z" fill="#000"/>
<text x="273" y="493.90" style="font-size:8px;" fill="#111"  letter-spacing="0.03">BRN/BLK</text>
<text x="323.6" y="498.40" style="font-size:10.4px;" fill="#0e0eb8" stroke="#0e0eb8" stroke-width="0.3" letter-spacing="0.18">ABS,</text>
<text x="323.6" y="509.00" style="font-size:10.4px;" fill="#0e0eb8" stroke="#0e0eb8" stroke-width="0.3" letter-spacing="0.18">ABC/TCS</text>
<text x="234" y="529.00" style="font-size:10.2px;" fill="#000"  letter-spacing="0.08" stroke="#000" stroke-width="0.12">(*3)</text>
<line x1="412.6" y1="346" x2="412.6" y2="538.5" stroke="#000" stroke-width="2.2" />
<text x="387.8" y="366.60" style="font-size:8px;" fill="#111"  letter-spacing="0.03">WHT</text>
<rect x="437" y="457" width="28" height="25" fill="#fff"/>
<text x="440.5" y="467.90" style="font-size:10.5px;" fill="#000"  letter-spacing="0.08" stroke="#000" stroke-width="0.12">with</text>
<text x="440.5" y="479.60" style="font-size:10.5px;" fill="#000"  letter-spacing="0.08" stroke="#000" stroke-width="0.12">ABS</text>
<text x="389" y="529.60" style="font-size:10.2px;" fill="#000"  letter-spacing="0.08" stroke="#000" stroke-width="0.12">(*5)</text>
<path d="M255.49999999999997,541.6999999999999 Q259.4,535.9 263.29999999999995,541.6999999999999" fill="none" stroke="#000" stroke-width="1.7"/>
<path d="M408.70000000000005,541.6999999999999 Q412.6,535.9 416.5,541.6999999999999" fill="none" stroke="#000" stroke-width="1.7"/>
<text x="253.08" y="541.20" style="font-size:10.5px;" fill="#000" text-anchor="end"  letter-spacing="0.08" stroke="#000" stroke-width="0.12">2</text>
<text x="406.58" y="541.20" style="font-size:10.5px;" fill="#000" text-anchor="end"  letter-spacing="0.08" stroke="#000" stroke-width="0.12">4</text>
<rect x="241.8" y="543.8" width="192.5" height="33.30000000000007" fill="#efefef"/>
<path d="M240.95,543.80L246.82,543.80M250.02,543.80L261.76,543.80M264.96,543.80L276.70,543.80M279.90,543.80L291.63,543.80M294.83,543.80L306.57,543.80M309.77,543.80L321.51,543.80M324.71,543.80L336.45,543.80M339.65,543.80L351.39,543.80M354.59,543.80L366.33,543.80M369.53,543.80L381.27,543.80M384.47,543.80L396.20,543.80M399.40,543.80L411.14,543.80M414.34,543.80L426.08,543.80M429.28,543.80L435.15,543.80" stroke="#000" stroke-width="1.7" fill="none" stroke-linecap="butt"/>
<path d="M240.95,577.10L246.82,577.10M250.02,577.10L261.76,577.10M264.96,577.10L276.70,577.10M279.90,577.10L291.63,577.10M294.83,577.10L306.57,577.10M309.77,577.10L321.51,577.10M324.71,577.10L336.45,577.10M339.65,577.10L351.39,577.10M354.59,577.10L366.33,577.10M369.53,577.10L381.27,577.10M384.47,577.10L396.20,577.10M399.40,577.10L411.14,577.10M414.34,577.10L426.08,577.10M429.28,577.10L435.15,577.10" stroke="#000" stroke-width="1.7" fill="none" stroke-linecap="butt"/>
<path d="M241.80,542.95L241.80,550.10M241.80,553.30L241.80,567.60M241.80,570.80L241.80,577.95" stroke="#000" stroke-width="1.7" fill="none" stroke-linecap="butt"/>
<path d="M434.30,542.95L434.30,550.10M434.30,553.30L434.30,567.60M434.30,570.80L434.30,577.95" stroke="#000" stroke-width="1.7" fill="none" stroke-linecap="butt"/>
<line x1="261.7" y1="560.45" x2="415.40000000000003" y2="560.45" stroke="#4a4a4a" stroke-width="1.6" stroke-dasharray="9.5 3.5"/>
<line x1="259.4" y1="543.8" x2="259.4" y2="552.0999999999999" stroke="#000" stroke-width="1.0" />
<path d="M259.4,552.0999999999999 Q263.0,554.0749999999999 259.4,556.05 Q263.0,558.025 259.4,560.0 Q263.0,561.975 259.4,563.95 Q263.0,565.925 259.4,567.9" fill="none" stroke="#000" stroke-width="1.1"/>
<line x1="259.4" y1="567.9" x2="259.4" y2="577.1" stroke="#000" stroke-width="1.0" />
<path d="M256.2,546.8 L259.4,543.8 L262.59999999999997,546.8" fill="none" stroke="#000" stroke-width="1.1"/>
<path d="M256.2,574.1 L259.4,577.1 L262.59999999999997,574.1" fill="none" stroke="#000" stroke-width="1.1"/>
<path d="M409.40000000000003,546.8 L412.6,543.8 L415.8,546.8" fill="none" stroke="#000" stroke-width="1.1"/>
<line x1="412.6" y1="543.8" x2="412.6" y2="553.5999999999999" stroke="#000" stroke-width="1.0" />
<circle cx="412.6" cy="553.5999999999999" r="1.9" fill="#000"/>
<line x1="412.6" y1="553.5999999999999" x2="420.1" y2="567.9" stroke="#000" stroke-width="1.5" />
<line x1="417.1" y1="562.3" x2="420.1" y2="567.9" stroke="#000" stroke-width="2.2" />
<circle cx="420.1" cy="567.9" r="1.9" fill="#000"/>
<circle cx="404.5" cy="567.5999999999999" r="1.9" fill="#000"/>
<line x1="404.5" y1="567.5999999999999" x2="404.5" y2="577.1" stroke="#000" stroke-width="1.0" />
<path d="M401.3,574.1 L404.5,577.1 L407.7,574.1" fill="none" stroke="#000" stroke-width="1.1"/>
<line x1="408.0" y1="569.0" x2="418.6" y2="569.0" stroke="#555" stroke-width="1.2" stroke-dasharray="3 2.5"/>
<path d="M255.49999999999997,579.9 Q259.4,585.6999999999999 263.29999999999995,579.9" fill="none" stroke="#000" stroke-width="1.7"/>
<path d="M400.6,579.9 Q404.5,585.6999999999999 408.4,579.9" fill="none" stroke="#000" stroke-width="1.7"/>
<text x="253.08" y="589.00" style="font-size:10.5px;" fill="#000" text-anchor="end"  letter-spacing="0.08" stroke="#000" stroke-width="0.12">1</text>
<text x="378.3" y="591.40" style="font-size:10.2px;" fill="#000"  letter-spacing="0.08" stroke="#000" stroke-width="0.12">(*4)</text>
<text x="396.08" y="603.00" style="font-size:10.5px;" fill="#000" text-anchor="end"  letter-spacing="0.08" stroke="#000" stroke-width="0.12">3</text>
<text x="440.2" y="551.90" style="font-size:10.5px;" fill="#000"  letter-spacing="0.08" stroke="#000" stroke-width="0.12">ABS Pump</text>
<text x="440.2" y="563.10" style="font-size:10.5px;" fill="#000"  letter-spacing="0.08" stroke="#000" stroke-width="0.12">Motor Relay</text>
<text x="440.2" y="573.90" style="font-size:10.4px;" fill="#0e0eb8" stroke="#0e0eb8" stroke-width="0.3" letter-spacing="0.18">page 44-2 or 44-6</text>
<text x="440.2" y="584.70" style="font-size:8px;font-style:italic;" fill="#0e0eb8" stroke="#0e0eb8" stroke-width="0.18" letter-spacing="0">PHOTO 9</text>
<line x1="528.2" y1="346" x2="528.2" y2="372.5" stroke="#000" stroke-width="2.2" />
<text x="483.5" y="361.50" style="font-size:8px;" fill="#111"  letter-spacing="0.03">WHT/GRN</text>
<path d="M524.3000000000001,375.4 Q528.2,369.6 532.1,375.4" fill="none" stroke="#000" stroke-width="1.7"/>
<path d="M525.0,377.8 L528.2,374.8 L531.4000000000001,377.8" fill="none" stroke="#000" stroke-width="1.6"/>
<line x1="528.2" y1="375.3" x2="528.2" y2="415" stroke="#000" stroke-width="2.2" />
<text x="518.08" y="376.20" style="font-size:10.5px;" fill="#000" text-anchor="end"  letter-spacing="0.08" stroke="#000" stroke-width="0.12">2</text>
<text x="538.6" y="376.20" style="font-size:10.5px;" fill="#000"  letter-spacing="0.08" stroke="#000" stroke-width="0.12">C204</text>
<text x="538.6" y="385.50" style="font-size:8px;font-style:italic;" fill="#0e0eb8" stroke="#0e0eb8" stroke-width="0.18" letter-spacing="0">PHOTO 91</text>
<text x="538.6" y="394.10" style="font-size:8px;font-style:italic;" fill="#0e0eb8" stroke="#0e0eb8" stroke-width="0.18" letter-spacing="0">VIEW 52</text>
<text x="483.5" y="389.70" style="font-size:8px;" fill="#111"  letter-spacing="0.03">WHT/GRN</text>
<text x="505" y="405.20" style="font-size:10.2px;" fill="#000"  letter-spacing="0.08" stroke="#000" stroke-width="0.12">(*3)</text>
<text x="518.08" y="417.90" style="font-size:10.5px;" fill="#000" text-anchor="end"  letter-spacing="0.08" stroke="#000" stroke-width="0.12">9</text>
<path d="M524.3000000000001,418.4 Q528.2,412.6 532.1,418.4" fill="none" stroke="#000" stroke-width="1.7"/>
<rect x="514.8" y="420.9" width="27.300000000000068" height="32.200000000000045" fill="#efefef"/>
<path d="M513.95,420.90L519.60,420.90M522.80,420.90L534.10,420.90M537.30,420.90L542.95,420.90" stroke="#000" stroke-width="1.7" fill="none" stroke-linecap="butt"/>
<path d="M513.95,453.10L519.60,453.10M522.80,453.10L534.10,453.10M537.30,453.10L542.95,453.10" stroke="#000" stroke-width="1.7" fill="none" stroke-linecap="butt"/>
<path d="M514.80,420.05L514.80,426.92M514.80,430.12L514.80,443.88M514.80,447.08L514.80,453.95" stroke="#000" stroke-width="1.7" fill="none" stroke-linecap="butt"/>
<path d="M542.10,420.05L542.10,426.92M542.10,430.12L542.10,443.88M542.10,447.08L542.10,453.95" stroke="#000" stroke-width="1.7" fill="none" stroke-linecap="butt"/>
<text x="514.1" y="465.90" style="font-size:10.5px;" fill="#000"  letter-spacing="0.08" stroke="#000" stroke-width="0.12">Hazard</text>
<text x="514.1" y="477.00" style="font-size:10.5px;" fill="#000"  letter-spacing="0.08" stroke="#000" stroke-width="0.12">Warning Switch</text>
<text x="514.1" y="488.00" style="font-size:10.4px;" fill="#0e0eb8" stroke="#0e0eb8" stroke-width="0.3" letter-spacing="0.18">page 110-2 (Coupe)</text>
<text x="514.1" y="499.50" style="font-size:10.4px;" fill="#0e0eb8" stroke="#0e0eb8" stroke-width="0.3" letter-spacing="0.18">or 110-3 (Sedan)</text>
<text x="514.1" y="508.60" style="font-size:8px;font-style:italic;" fill="#0e0eb8" stroke="#0e0eb8" stroke-width="0.18" letter-spacing="0">PHOTO 191</text>
<text x="514.1" y="517.20" style="font-size:8px;font-style:italic;" fill="#0e0eb8" stroke="#0e0eb8" stroke-width="0.18" letter-spacing="0">VIEW 36</text>
<line x1="624.3" y1="346" x2="624.3" y2="414.5" stroke="#000" stroke-width="2.2" />
<text x="582" y="366.40" style="font-size:8px;" fill="#111"  letter-spacing="0.03">WHT/YEL</text>
<path d="M620.4,417.4 Q624.3,411.6 628.1999999999999,417.4" fill="none" stroke="#000" stroke-width="1.7"/>
<path d="M621.0999999999999,419.8 L624.3,416.8 L627.5,419.8" fill="none" stroke="#000" stroke-width="1.6"/>
<line x1="624.3" y1="417.3" x2="624.3" y2="669.6" stroke="#000" stroke-width="2.2" />
<text x="614.08" y="419.90" style="font-size:10.5px;" fill="#000" text-anchor="end"  letter-spacing="0.08" stroke="#000" stroke-width="0.12">6</text>
<text x="633.7" y="419.90" style="font-size:10.5px;" fill="#000"  letter-spacing="0.08" stroke="#000" stroke-width="0.12">C202</text>
<text x="633.7" y="428.90" style="font-size:8px;font-style:italic;" fill="#0e0eb8" stroke="#0e0eb8" stroke-width="0.18" letter-spacing="0">PHOTO 120</text>
<text x="633.7" y="437.50" style="font-size:8px;font-style:italic;" fill="#0e0eb8" stroke="#0e0eb8" stroke-width="0.18" letter-spacing="0">VIEW 17</text>
<text x="582" y="440.70" style="font-size:8px;" fill="#111"  letter-spacing="0.03">WHT/YEL</text>
<text x="642.8" y="497.10" style="font-size:10.5px;" fill="#000"  letter-spacing="0.08" stroke="#000" stroke-width="0.12">* = &#8217;01-&#8217;02 Models</text>
<circle cx="624.3" cy="604" r="4.6" fill="#fff"/>
<circle cx="624.3" cy="604" r="3.0" fill="#000"/>
<line x1="630" y1="604" x2="701.1" y2="604" stroke="#000" stroke-width="2.2" />
<line x1="701.1" y1="603" x2="701.1" y2="800.8" stroke="#000" stroke-width="2.2" />
<text x="617.3299999999999" y="625.80" style="font-size:8px;" fill="#111" text-anchor="end"  letter-spacing="0.03">WHT/</text>
<text x="617.3299999999999" y="635.60" style="font-size:8px;" fill="#111" text-anchor="end"  letter-spacing="0.03">YEL</text>
<text x="658.5" y="636.70" style="font-size:8px;" fill="#111"  letter-spacing="0.03">WHT/YEL</text>
<text x="611.58" y="657.20" style="font-size:10.5px;" fill="#000" text-anchor="end"  letter-spacing="0.08" stroke="#000" stroke-width="0.12">2</text>
<text x="585.8" y="668.40" style="font-size:10.5px;" fill="#000"  letter-spacing="0.08" stroke="#000" stroke-width="0.12">(DX 1)</text>
<path d="M620.4,672.6999999999999 Q624.3,666.9 628.1999999999999,672.6999999999999" fill="none" stroke="#000" stroke-width="1.7"/>
<rect x="610.7" y="675.0" width="27.299999999999955" height="32.39999999999998" fill="#efefef"/>
<path d="M609.85,675.00L615.50,675.00M618.70,675.00L630.00,675.00M633.20,675.00L638.85,675.00" stroke="#000" stroke-width="1.7" fill="none" stroke-linecap="butt"/>
<path d="M609.85,707.40L615.50,707.40M618.70,707.40L630.00,707.40M633.20,707.40L638.85,707.40" stroke="#000" stroke-width="1.7" fill="none" stroke-linecap="butt"/>
<path d="M610.70,674.15L610.70,681.07M610.70,684.27L610.70,698.12M610.70,701.33L610.70,708.25" stroke="#000" stroke-width="1.7" fill="none" stroke-linecap="butt"/>
<path d="M638.00,674.15L638.00,681.07M638.00,684.27L638.00,698.12M638.00,701.33L638.00,708.25" stroke="#000" stroke-width="1.7" fill="none" stroke-linecap="butt"/>
<text x="610" y="722.40" style="font-size:10.5px;" fill="#000"  letter-spacing="0.08" stroke="#000" stroke-width="0.12">Brake Pedal</text>
<text x="610" y="732.90" style="font-size:10.5px;" fill="#000"  letter-spacing="0.08" stroke="#000" stroke-width="0.12">Position Switch</text>
<text x="610" y="743.80" style="font-size:10.4px;" fill="#0e0eb8" stroke="#0e0eb8" stroke-width="0.3" letter-spacing="0.18">pages 23-8,</text>
<text x="610" y="754.60" style="font-size:10.4px;" fill="#0e0eb8" stroke="#0e0eb8" stroke-width="0.3" letter-spacing="0.18">24-6, 34, 39,</text>
<text x="610" y="766.00" style="font-size:10.4px;" fill="#0e0eb8" stroke="#0e0eb8" stroke-width="0.3" letter-spacing="0.18">44, 110, 110-1,</text>
<text x="610" y="777.80" style="font-size:10.4px;" fill="#0e0eb8" stroke="#0e0eb8" stroke-width="0.3" letter-spacing="0.18">and 138</text>
<text x="610" y="786.40" style="font-size:8px;font-style:italic;" fill="#0e0eb8" stroke="#0e0eb8" stroke-width="0.18" letter-spacing="0">PHOTO 98</text>
<text x="692.08" y="801.20" style="font-size:10.5px;" fill="#000" text-anchor="end"  letter-spacing="0.08" stroke="#000" stroke-width="0.12">7</text>
<path d="M697.2,803.9 Q701.1,798.1 705.0,803.9" fill="none" stroke="#000" stroke-width="1.7"/>
<rect x="607.7" y="806" width="129.19999999999993" height="140" fill="#efefef"/>
<path d="M606.85,806.00L612.52,806.00M615.72,806.00L627.07,806.00M630.27,806.00L641.61,806.00M644.81,806.00L656.16,806.00M659.36,806.00L670.70,806.00M673.90,806.00L685.24,806.00M688.44,806.00L699.79,806.00M702.99,806.00L714.33,806.00M717.53,806.00L728.88,806.00M732.08,806.00L737.75,806.00" stroke="#000" stroke-width="1.7" fill="none" stroke-linecap="butt"/>
<path d="M606.85,946.00L612.52,946.00M615.72,946.00L627.07,946.00M630.27,946.00L641.61,946.00M644.81,946.00L656.16,946.00M659.36,946.00L670.70,946.00M673.90,946.00L685.24,946.00M688.44,946.00L699.79,946.00M702.99,946.00L714.33,946.00M717.53,946.00L728.88,946.00M732.08,946.00L737.75,946.00" stroke="#000" stroke-width="1.7" fill="none" stroke-linecap="butt"/>
<path d="M607.70,805.15L607.70,810.63M607.70,813.84L607.70,824.80M607.70,828.00L607.70,838.98M607.70,842.17L607.70,853.14M607.70,856.35L607.70,867.32M607.70,870.51L607.70,881.49M607.70,884.68L607.70,895.65M607.70,898.86L607.70,909.83M607.70,913.02L607.70,924.00M607.70,927.20L607.70,938.16M607.70,941.37L607.70,946.85" stroke="#000" stroke-width="1.7" fill="none" stroke-linecap="butt"/>
<path d="M736.90,805.15L736.90,810.63M736.90,813.84L736.90,824.80M736.90,828.00L736.90,838.98M736.90,842.17L736.90,853.14M736.90,856.35L736.90,867.32M736.90,870.51L736.90,881.49M736.90,884.68L736.90,895.65M736.90,898.86L736.90,909.83M736.90,913.02L736.90,924.00M736.90,927.20L736.90,938.16M736.90,941.37L736.90,946.85" stroke="#000" stroke-width="1.7" fill="none" stroke-linecap="butt"/>
<path d="M697.9,809 L701.1,806 L704.3000000000001,809" fill="none" stroke="#000" stroke-width="1.1"/>
<line x1="701.1" y1="806" x2="701.1" y2="840.4" stroke="#000" stroke-width="1.2" />
<circle cx="701.1" cy="824.4" r="1.7" fill="#000"/>
<polyline points="701.1,824.4 639.6,824.4 639.6,846.3" fill="none" stroke="#000" stroke-width="1.2" stroke-linejoin="miter"/>
<path d="M697.9,843.4 L701.1,840.4 L704.3000000000001,843.4" fill="none" stroke="#000" stroke-width="1.1"/>
<rect x="625.8" y="846.3" width="28.40000000000009" height="33.30000000000007" fill="#efefef"/>
<path d="M624.95,846.30L630.88,846.30M634.07,846.30L645.93,846.30M649.12,846.30L655.05,846.30" stroke="#000" stroke-width="1.7" fill="none" stroke-linecap="butt"/>
<path d="M624.95,879.60L630.88,879.60M634.07,879.60L645.93,879.60M649.12,879.60L655.05,879.60" stroke="#000" stroke-width="1.7" fill="none" stroke-linecap="butt"/>
<path d="M625.80,845.45L625.80,852.60M625.80,855.80L625.80,870.10M625.80,873.30L625.80,880.45" stroke="#000" stroke-width="1.7" fill="none" stroke-linecap="butt"/>
<path d="M654.20,845.45L654.20,852.60M654.20,855.80L654.20,870.10M654.20,873.30L654.20,880.45" stroke="#000" stroke-width="1.7" fill="none" stroke-linecap="butt"/>
<rect x="686.5" y="846.3" width="28.899999999999977" height="33.30000000000007" fill="#efefef"/>
<path d="M685.65,846.30L691.70,846.30M694.90,846.30L707.00,846.30M710.20,846.30L716.25,846.30" stroke="#000" stroke-width="1.7" fill="none" stroke-linecap="butt"/>
<path d="M685.65,879.60L691.70,879.60M694.90,879.60L707.00,879.60M710.20,879.60L716.25,879.60" stroke="#000" stroke-width="1.7" fill="none" stroke-linecap="butt"/>
<path d="M686.50,845.45L686.50,852.60M686.50,855.80L686.50,870.10M686.50,873.30L686.50,880.45" stroke="#000" stroke-width="1.7" fill="none" stroke-linecap="butt"/>
<path d="M715.40,845.45L715.40,852.60M715.40,855.80L715.40,870.10M715.40,873.30L715.40,880.45" stroke="#000" stroke-width="1.7" fill="none" stroke-linecap="butt"/>
<text x="625.8" y="891.90" style="font-size:10.5px;" fill="#000"  letter-spacing="0.08" stroke="#000" stroke-width="0.12">Key</text>
<text x="625.8" y="902.80" style="font-size:10.5px;" fill="#000"  letter-spacing="0.08" stroke="#000" stroke-width="0.12">Interlock</text>
<text x="625.8" y="913.70" style="font-size:10.5px;" fill="#000"  letter-spacing="0.08" stroke="#000" stroke-width="0.12">Switch</text>
<text x="625.8" y="925.20" style="font-size:10.4px;" fill="#0e0eb8" stroke="#0e0eb8" stroke-width="0.3" letter-spacing="0.18">page 138</text>
<text x="686.5" y="891.90" style="font-size:10.5px;" fill="#000"  letter-spacing="0.08" stroke="#000" stroke-width="0.12">Ignition</text>
<text x="686.5" y="902.80" style="font-size:10.5px;" fill="#000"  letter-spacing="0.08" stroke="#000" stroke-width="0.12">Key</text>
<text x="686.5" y="913.70" style="font-size:10.5px;" fill="#000"  letter-spacing="0.08" stroke="#000" stroke-width="0.12">Light</text>
<text x="686.5" y="925.20" style="font-size:10.4px;" fill="#0e0eb8" stroke="#0e0eb8" stroke-width="0.3" letter-spacing="0.18">page 115</text>
<text x="611.3" y="958.90" style="font-size:10.5px;" fill="#000"  letter-spacing="0.08" stroke="#000" stroke-width="0.12">Steering Lock</text>
<text x="611.3" y="971.00" style="font-size:8px;font-style:italic;" fill="#0e0eb8" stroke="#0e0eb8" stroke-width="0.18" letter-spacing="0">PHOTO 89</text>
<text x="611.3" y="979.80" style="font-size:8px;font-style:italic;" fill="#0e0eb8" stroke="#0e0eb8" stroke-width="0.18" letter-spacing="0">VIEW 24</text>
<line x1="404.5" y1="582.8" x2="404.5" y2="700" stroke="#000" stroke-width="2.2" />
<text x="362.4" y="616.00" style="font-size:8px;" fill="#111"  letter-spacing="0.03">WHT/BLU</text>
<circle cx="404.6" cy="621.2" r="4.6" fill="#fff"/>
<circle cx="404.6" cy="621.2" r="3.0" fill="#000"/>
<polyline points="410.6,621.2 510.6,621.2 510.6,634.3" fill="none" stroke="#000" stroke-width="2.2" stroke-linejoin="miter"/>
<text x="444.5" y="612.60" style="font-size:8px;" fill="#111"  letter-spacing="0.03">WHT/BLU</text>
<text x="487.8" y="634.50" style="font-size:10px;" fill="#0e0eb8" stroke="#0e0eb8" stroke-width="0.3" letter-spacing="0.18">C4</text>
<path d="M506.70000000000005,637.1999999999999 Q510.6,631.4 514.5,637.1999999999999" fill="none" stroke="#000" stroke-width="1.7"/>
<text x="361.8" y="655.30" style="font-size:8px;" fill="#111"  letter-spacing="0.03">WHT/BLU</text>
<rect x="493.5" y="639.7" width="67.70000000000005" height="62.89999999999998" fill="#efefef"/>
<path d="M492.65,639.70L497.99,639.70M501.19,639.70L511.87,639.70M515.07,639.70L525.75,639.70M528.95,639.70L539.63,639.70M542.83,639.70L553.51,639.70M556.71,639.70L562.05,639.70" stroke="#000" stroke-width="1.7" fill="none" stroke-linecap="butt"/>
<path d="M492.65,702.60L497.99,702.60M501.19,702.60L511.87,702.60M515.07,702.60L525.75,702.60M528.95,702.60L539.63,702.60M542.83,702.60L553.51,702.60M556.71,702.60L562.05,702.60" stroke="#000" stroke-width="1.7" fill="none" stroke-linecap="butt"/>
<path d="M493.50,638.85L493.50,645.33M493.50,648.52L493.50,661.48M493.50,664.68L493.50,677.62M493.50,680.83L493.50,693.78M493.50,696.98L493.50,703.45" stroke="#000" stroke-width="1.7" fill="none" stroke-linecap="butt"/>
<path d="M561.20,638.85L561.20,645.33M561.20,648.52L561.20,661.48M561.20,664.68L561.20,677.62M561.20,680.83L561.20,693.78M561.20,696.98L561.20,703.45" stroke="#000" stroke-width="1.7" fill="none" stroke-linecap="butt"/>
<path d="M507.2,642.7 L510.4,639.7 L513.6,642.7" fill="none" stroke="#000" stroke-width="1.1"/>
<line x1="510.4" y1="639.7" x2="510.4" y2="702.6" stroke="#000" stroke-width="1.2" />
<rect x="509" y="655" width="3" height="19" fill="#efefef"/>
<path d="M510.4,654 L510.4,657 C508.9,658.2 507.79999999999995,659.7 508.29999999999995,661.2 C508.9,662.9 512.5,664.7 512.6,666.7 C512.6999999999999,668.7 510.4,670 510.4,671.5 L510.4,674.6" fill="none" stroke="#000" stroke-width="1.3"/>
<circle cx="510.4" cy="654" r="1.9" fill="#000"/>
<circle cx="510.4" cy="674.6" r="1.9" fill="#000"/>
<circle cx="510.4" cy="684.3" r="1.7" fill="#000"/>
<polyline points="510.4,684.3 550.2,684.3 550.2,702.6" fill="none" stroke="#000" stroke-width="1.2" stroke-linejoin="miter"/>
<path d="M507.2,699.6 L510.4,702.6 L513.6,699.6" fill="none" stroke="#000" stroke-width="1.1"/>
<path d="M547.0,699.6 L550.2,702.6 L553.4000000000001,699.6" fill="none" stroke="#000" stroke-width="1.1"/>
<text x="517.7" y="661.70" style="font-size:10.4px;" fill="#0e0eb8" stroke="#0e0eb8" stroke-width="0.3" letter-spacing="0.18">Fuse 14</text>
<text x="517.7" y="673.90" style="font-size:7.6px;" fill="#111"  letter-spacing="0.03">7.5A</text>
<text x="525.4" y="697.90" style="font-size:10.4px;" fill="#0e0eb8" stroke="#0e0eb8" stroke-width="0.3" letter-spacing="0.18">H18</text>
<text x="485.58" y="648.90" style="font-size:10.5px;" fill="#000" text-anchor="end"  letter-spacing="0.08" stroke="#000" stroke-width="0.12">Passenger&#8217;s</text>
<text x="485.58" y="660.00" style="font-size:10.5px;" fill="#000" text-anchor="end"  letter-spacing="0.08" stroke="#000" stroke-width="0.12">Under-dash</text>
<text x="485.58" y="672.10" style="font-size:10.5px;" fill="#000" text-anchor="end"  letter-spacing="0.08" stroke="#000" stroke-width="0.12">Fuse/Relay</text>
<text x="485.58" y="682.70" style="font-size:10.5px;" fill="#000" text-anchor="end"  letter-spacing="0.08" stroke="#000" stroke-width="0.12">Box</text>
<text x="485.5" y="691.90" style="font-size:8px;font-style:italic;" fill="#0e0eb8" text-anchor="end" stroke="#0e0eb8" stroke-width="0.18" letter-spacing="0">PHOTO 91</text>
<text x="485.5" y="700.10" style="font-size:8px;font-style:italic;" fill="#0e0eb8" text-anchor="end" stroke="#0e0eb8" stroke-width="0.18" letter-spacing="0">VIEW 67</text>
<path d="M497.2,707.0 Q497.2,709.2 499.59999999999997,709.2 L527.2,709.2 Q529.6,709.2 529.6,711.6 M529.6,711.6 Q529.6,709.2 532.0,709.2 L560.6,709.2 Q563,709.2 563,707.0" fill="none" stroke="#000" stroke-width="2.0"/>
<text x="507.6" y="727.90" style="font-size:10.4px;" fill="#0e0eb8" stroke="#0e0eb8" stroke-width="0.3" letter-spacing="0.18">See page</text>
<text x="507.6" y="739.60" style="font-size:10.4px;" fill="#0e0eb8" stroke="#0e0eb8" stroke-width="0.3" letter-spacing="0.18">10-13.</text>
<line x1="259.4" y1="582.8" x2="259.4" y2="700" stroke="#000" stroke-width="2.2" />
<text x="218.4" y="655.50" style="font-size:8px;" fill="#111"  letter-spacing="0.03">YEL/RED</text>
<polyline points="206,709.6 319,709.6 319,782.4 206,782.4 206,709.6" fill="none" stroke="#000" stroke-width="1.2" stroke-dasharray="3 6.2"/>
<line x1="259.4" y1="700" x2="259.4" y2="720.5" stroke="#000" stroke-width="2.2" />
<path d="M255.49999999999997,723.4 Q259.4,717.6 263.29999999999995,723.4" fill="none" stroke="#000" stroke-width="1.7"/>
<path d="M256.2,725.8 L259.4,722.8 L262.59999999999997,725.8" fill="none" stroke="#000" stroke-width="1.6"/>
<line x1="259.4" y1="723.3" x2="259.4" y2="753.5" stroke="#000" stroke-width="2.2" />
<path d="M256.2,750.8 L259.4,753.8 L262.59999999999997,750.8" fill="none" stroke="#000" stroke-width="1.6"/>
<path d="M255.49999999999997,754.1 Q259.4,759.9 263.29999999999995,754.1" fill="none" stroke="#000" stroke-width="1.7"/>
<line x1="259.4" y1="757" x2="259.4" y2="822" stroke="#000" stroke-width="2.2" />
<text x="249.98" y="724.70" style="font-size:10.5px;" fill="#000" text-anchor="end"  letter-spacing="0.08" stroke="#000" stroke-width="0.12">8</text>
<text x="268.9" y="724.70" style="font-size:10.5px;" fill="#000"  letter-spacing="0.08" stroke="#000" stroke-width="0.12">C201</text>
<text x="268.9" y="733.40" style="font-size:8px;font-style:italic;" fill="#0e0eb8" stroke="#0e0eb8" stroke-width="0.18" letter-spacing="0">PHOTO 120</text>
<text x="268.9" y="742.00" style="font-size:8px;font-style:italic;" fill="#0e0eb8" stroke="#0e0eb8" stroke-width="0.18" letter-spacing="0">VIEW 45</text>
<text x="218.4" y="740.60" style="font-size:8px;" fill="#111"  letter-spacing="0.03">YEL/RED</text>
<rect x="202" y="748" width="16" height="12" fill="#fff"/>
<text x="203" y="759.00" style="font-size:10.5px;" fill="#000"  letter-spacing="0.08" stroke="#000" stroke-width="0.12">L4</text>
<text x="249.98" y="759.00" style="font-size:10.5px;" fill="#000" text-anchor="end"  letter-spacing="0.08" stroke="#000" stroke-width="0.12">7</text>
<text x="268.9" y="759.00" style="font-size:10.5px;" fill="#000"  letter-spacing="0.08" stroke="#000" stroke-width="0.12">C301</text>
<text x="268.9" y="769.00" style="font-size:8px;font-style:italic;" fill="#0e0eb8" stroke="#0e0eb8" stroke-width="0.18" letter-spacing="0">PHOTO 98</text>
<text x="268.9" y="777.90" style="font-size:8px;font-style:italic;" fill="#0e0eb8" stroke="#0e0eb8" stroke-width="0.18" letter-spacing="0">VIEW 51</text>
<text x="202.4" y="804.50" style="font-size:10.5px;" fill="#000"  letter-spacing="0.08" stroke="#000" stroke-width="0.12">All except</text>
<text x="202.4" y="815.90" style="font-size:10.5px;" fill="#000"  letter-spacing="0.08" stroke="#000" stroke-width="0.12">&#8217;01-&#8217;02 V6</text>
<text x="267.9" y="817.00" style="font-size:10.5px;" fill="#000"  letter-spacing="0.08" stroke="#000" stroke-width="0.12">&#8217;01-&#8217;02 V6</text>
<path d="M202.4,825.9000000000001 Q202.4,823.7 204.8,823.7 L257.0,823.7 Q259.4,823.7 259.4,821.3000000000001 M259.4,821.3000000000001 Q259.4,823.7 261.79999999999995,823.7 L313.0,823.7 Q315.4,823.7 315.4,825.9000000000001" fill="none" stroke="#000" stroke-width="2.0"/>
<polyline points="351.7,709.6 465.4,709.6 465.4,782.4 351.7,782.4 351.7,709.6" fill="none" stroke="#000" stroke-width="1.2" stroke-dasharray="3 6.2"/>
<line x1="404.5" y1="700" x2="404.5" y2="720.5" stroke="#000" stroke-width="2.2" />
<path d="M400.6,723.4 Q404.5,717.6 408.4,723.4" fill="none" stroke="#000" stroke-width="1.7"/>
<path d="M401.3,725.8 L404.5,722.8 L407.7,725.8" fill="none" stroke="#000" stroke-width="1.6"/>
<line x1="404.5" y1="723.3" x2="404.5" y2="753.5" stroke="#000" stroke-width="2.2" />
<path d="M401.3,750.8 L404.5,753.8 L407.7,750.8" fill="none" stroke="#000" stroke-width="1.6"/>
<path d="M400.6,754.1 Q404.5,759.9 408.4,754.1" fill="none" stroke="#000" stroke-width="1.7"/>
<line x1="404.5" y1="757" x2="404.5" y2="822" stroke="#000" stroke-width="2.2" />
<text x="395.08" y="724.70" style="font-size:10.5px;" fill="#000" text-anchor="end"  letter-spacing="0.08" stroke="#000" stroke-width="0.12">7</text>
<text x="414.0" y="724.70" style="font-size:10.5px;" fill="#000"  letter-spacing="0.08" stroke="#000" stroke-width="0.12">C202</text>
<text x="414.0" y="733.40" style="font-size:8px;font-style:italic;" fill="#0e0eb8" stroke="#0e0eb8" stroke-width="0.18" letter-spacing="0">PHOTO 120</text>
<text x="414.0" y="742.00" style="font-size:8px;font-style:italic;" fill="#0e0eb8" stroke="#0e0eb8" stroke-width="0.18" letter-spacing="0">VIEW 17</text>
<text x="364.09999999999997" y="740.60" style="font-size:8px;" fill="#111"  letter-spacing="0.03">WHT/BLU</text>
<rect x="347.7" y="748" width="16" height="12" fill="#fff"/>
<text x="348.7" y="759.00" style="font-size:10.5px;" fill="#000"  letter-spacing="0.08" stroke="#000" stroke-width="0.12">L4</text>
<text x="395.08" y="759.00" style="font-size:10.5px;" fill="#000" text-anchor="end"  letter-spacing="0.08" stroke="#000" stroke-width="0.12">14</text>
<text x="414.0" y="759.00" style="font-size:10.5px;" fill="#000"  letter-spacing="0.08" stroke="#000" stroke-width="0.12">C301</text>
<text x="414.0" y="769.00" style="font-size:8px;font-style:italic;" fill="#0e0eb8" stroke="#0e0eb8" stroke-width="0.18" letter-spacing="0">PHOTO 98</text>
<text x="414.0" y="777.90" style="font-size:8px;font-style:italic;" fill="#0e0eb8" stroke="#0e0eb8" stroke-width="0.18" letter-spacing="0">VIEW 51</text>
<text x="348.09999999999997" y="804.50" style="font-size:10.5px;" fill="#000"  letter-spacing="0.08" stroke="#000" stroke-width="0.12">All except</text>
<text x="348.09999999999997" y="815.90" style="font-size:10.5px;" fill="#000"  letter-spacing="0.08" stroke="#000" stroke-width="0.12">&#8217;01-&#8217;02 V6</text>
<text x="413.0" y="817.00" style="font-size:10.5px;" fill="#000"  letter-spacing="0.08" stroke="#000" stroke-width="0.12">&#8217;01-&#8217;02 V6</text>
<path d="M348.09999999999997,825.9000000000001 Q348.09999999999997,823.7 350.49999999999994,823.7 L402.1,823.7 Q404.5,823.7 404.5,821.3000000000001 M404.5,821.3000000000001 Q404.5,823.7 406.9,823.7 L459.4,823.7 Q461.79999999999995,823.7 461.79999999999995,825.9000000000001" fill="none" stroke="#000" stroke-width="2.0"/>
<line x1="223.8" y1="830.5" x2="223.8" y2="876.6" stroke="#000" stroke-width="2.2" />
<path d="M219.9,879.5 Q223.8,873.7 227.70000000000002,879.5" fill="none" stroke="#000" stroke-width="1.7"/>
<text x="198.10000000000002" y="877.00" style="font-size:10.5px;" fill="#000"  letter-spacing="0.08" stroke="#000" stroke-width="0.12">B12</text>
<line x1="293.8" y1="830.5" x2="293.8" y2="876.6" stroke="#000" stroke-width="2.2" />
<path d="M289.90000000000003,879.5 Q293.8,873.7 297.7,879.5" fill="none" stroke="#000" stroke-width="1.7"/>
<text x="268.1" y="877.00" style="font-size:10.5px;" fill="#000"  letter-spacing="0.08" stroke="#000" stroke-width="0.12">B15</text>
<text x="182" y="843.60" style="font-size:8px;" fill="#111"  letter-spacing="0.03">YEL/RED</text>
<text x="253.3" y="843.60" style="font-size:8px;" fill="#111"  letter-spacing="0.03">YEL/RED</text>
<rect x="210.3" y="882.4" width="26.899999999999977" height="32.10000000000002" fill="#efefef"/>
<path d="M209.45,882.40L215.00,882.40M218.20,882.40L229.30,882.40M232.50,882.40L238.05,882.40" stroke="#000" stroke-width="1.7" fill="none" stroke-linecap="butt"/>
<path d="M209.45,914.50L215.00,914.50M218.20,914.50L229.30,914.50M232.50,914.50L238.05,914.50" stroke="#000" stroke-width="1.7" fill="none" stroke-linecap="butt"/>
<path d="M210.30,881.55L210.30,888.40M210.30,891.60L210.30,905.30M210.30,908.50L210.30,915.35" stroke="#000" stroke-width="1.7" fill="none" stroke-linecap="butt"/>
<path d="M237.20,881.55L237.20,888.40M237.20,891.60L237.20,905.30M237.20,908.50L237.20,915.35" stroke="#000" stroke-width="1.7" fill="none" stroke-linecap="butt"/>
<rect x="280.6" y="882.4" width="26.899999999999977" height="32.10000000000002" fill="#efefef"/>
<path d="M279.75,882.40L285.30,882.40M288.50,882.40L299.60,882.40M302.80,882.40L308.35,882.40" stroke="#000" stroke-width="1.7" fill="none" stroke-linecap="butt"/>
<path d="M279.75,914.50L285.30,914.50M288.50,914.50L299.60,914.50M302.80,914.50L308.35,914.50" stroke="#000" stroke-width="1.7" fill="none" stroke-linecap="butt"/>
<path d="M280.60,881.55L280.60,888.40M280.60,891.60L280.60,905.30M280.60,908.50L280.60,915.35" stroke="#000" stroke-width="1.7" fill="none" stroke-linecap="butt"/>
<path d="M307.50,881.55L307.50,888.40M307.50,891.60L307.50,905.30M307.50,908.50L307.50,915.35" stroke="#000" stroke-width="1.7" fill="none" stroke-linecap="butt"/>
<text x="208.7" y="929.80" style="font-size:10.5px;" fill="#000"  letter-spacing="0.08" stroke="#000" stroke-width="0.12">ABS Control</text>
<text x="208.7" y="940.80" style="font-size:10.5px;" fill="#000"  letter-spacing="0.08" stroke="#000" stroke-width="0.12">Unit</text>
<text x="208.7" y="951.60" style="font-size:10.4px;" fill="#0e0eb8" stroke="#0e0eb8" stroke-width="0.3" letter-spacing="0.18">page 44-2</text>
<text x="208.7" y="963.60" style="font-size:8px;font-style:italic;" fill="#0e0eb8" stroke="#0e0eb8" stroke-width="0.18" letter-spacing="0">PHOTO 92</text>
<text x="208.7" y="972.50" style="font-size:8px;font-style:italic;" fill="#0e0eb8" stroke="#0e0eb8" stroke-width="0.18" letter-spacing="0">PHOTO 122</text>
<text x="254.5" y="972.50" style="font-size:8px;" fill="#000"  letter-spacing="0.03">(V6)</text>
<text x="208.7" y="981.10" style="font-size:8px;font-style:italic;" fill="#0e0eb8" stroke="#0e0eb8" stroke-width="0.18" letter-spacing="0">VIEW 56</text>
<text x="279.1" y="929.80" style="font-size:10.5px;" fill="#000"  letter-spacing="0.08" stroke="#000" stroke-width="0.12">ABS/TCS</text>
<text x="279.1" y="940.80" style="font-size:10.5px;" fill="#000"  letter-spacing="0.08" stroke="#000" stroke-width="0.12">Control</text>
<text x="279.1" y="951.60" style="font-size:10.5px;" fill="#000"  letter-spacing="0.08" stroke="#000" stroke-width="0.12">Unit</text>
<text x="279.1" y="962.80" style="font-size:10.4px;" fill="#0e0eb8" stroke="#0e0eb8" stroke-width="0.3" letter-spacing="0.18">page 44-6</text>
<text x="279.1" y="974.80" style="font-size:8px;font-style:italic;" fill="#0e0eb8" stroke="#0e0eb8" stroke-width="0.18" letter-spacing="0">PHOTO 195</text>
<text x="279.1" y="983.40" style="font-size:8px;font-style:italic;" fill="#0e0eb8" stroke="#0e0eb8" stroke-width="0.18" letter-spacing="0">VIEW 76</text>
<line x1="369.5" y1="830.5" x2="369.5" y2="876.4" stroke="#000" stroke-width="2.2" />
<path d="M365.6,879.3 Q369.5,873.5 373.4,879.3" fill="none" stroke="#000" stroke-width="1.7"/>
<line x1="448.3" y1="830.5" x2="448.3" y2="861.4" stroke="#000" stroke-width="2.2" />
<path d="M444.40000000000003,864.3 Q448.3,858.5 452.2,864.3" fill="none" stroke="#000" stroke-width="1.7"/>
<text x="326.1" y="843.60" style="font-size:8px;" fill="#111"  letter-spacing="0.03">WHT/BLU</text>
<text x="405" y="843.60" style="font-size:8px;" fill="#111"  letter-spacing="0.03">WHT/BLU</text>
<text x="360.08" y="875.00" style="font-size:10.5px;" fill="#000" text-anchor="end"  letter-spacing="0.08" stroke="#000" stroke-width="0.12">1</text>
<text x="438.58" y="859.20" style="font-size:10.5px;" fill="#000" text-anchor="end"  letter-spacing="0.08" stroke="#000" stroke-width="0.12">1</text>
<rect x="357.15000000000003" y="882.15" width="23.699999999999978" height="29.400000000000023" fill="#efefef" stroke="#000" stroke-width="1.7"/>
<path d="M365.7,886.0 L368.9,883.0 L372.09999999999997,886.0" fill="none" stroke="#000" stroke-width="0.9"/>
<path d="M365.7,907.6999999999999 L368.9,910.6999999999999 L372.09999999999997,907.6999999999999" fill="none" stroke="#000" stroke-width="0.9"/>
<line x1="368.9" y1="883.0" x2="368.9" y2="910.6999999999999" stroke="#555" stroke-width="1.0" />
<rect x="365.9" y="887.3499999999999" width="6" height="3" fill="#999" stroke="#000" stroke-width="1.2"/>
<rect x="365.9" y="903.6499999999999" width="6" height="3" fill="#999" stroke="#000" stroke-width="1.2"/>
<circle cx="368.9" cy="896.8499999999999" r="7.2" fill="#fff" stroke="#000" stroke-width="1.3"/>
<text x="368.9" y="900.25" style="font-size:8.2px;" fill="#111" text-anchor="middle" letter-spacing="0">M</text>
<text x="357.2" y="926.00" style="font-size:10.5px;" fill="#000"  letter-spacing="0.08" stroke="#000" stroke-width="0.12">ABS</text>
<text x="357.2" y="937.00" style="font-size:10.5px;" fill="#000"  letter-spacing="0.08" stroke="#000" stroke-width="0.12">Pump</text>
<text x="357.2" y="947.80" style="font-size:10.5px;" fill="#000"  letter-spacing="0.08" stroke="#000" stroke-width="0.12">Motor</text>
<text x="357.2" y="959.50" style="font-size:10.4px;" fill="#0e0eb8" stroke="#0e0eb8" stroke-width="0.3" letter-spacing="0.18">page 44-2</text>
<text x="357.2" y="971.00" style="font-size:8px;font-style:italic;" fill="#0e0eb8" stroke="#0e0eb8" stroke-width="0.18" letter-spacing="0">PHOTO 29</text>
<text x="357.2" y="980.00" style="font-size:8px;font-style:italic;" fill="#0e0eb8" stroke="#0e0eb8" stroke-width="0.18" letter-spacing="0">PHOTO 67</text>
<text x="398.5" y="980.00" style="font-size:8px;" fill="#000"  letter-spacing="0.03">(V6)</text>
<rect x="426" y="867.6" width="85.39999999999998" height="53.60000000000002" fill="#efefef"/>
<path d="M425.15,867.60L430.81,867.60M434.01,867.60L445.32,867.60M448.52,867.60L459.84,867.60M463.04,867.60L474.36,867.60M477.56,867.60L488.88,867.60M492.07,867.60L503.39,867.60M506.59,867.60L512.25,867.60" stroke="#000" stroke-width="1.7" fill="none" stroke-linecap="butt"/>
<path d="M425.15,921.20L430.81,921.20M434.01,921.20L445.32,921.20M448.52,921.20L459.84,921.20M463.04,921.20L474.36,921.20M477.56,921.20L488.88,921.20M492.07,921.20L503.39,921.20M506.59,921.20L512.25,921.20" stroke="#000" stroke-width="1.7" fill="none" stroke-linecap="butt"/>
<path d="M426.00,866.75L426.00,872.06M426.00,875.26L426.00,885.89M426.00,889.09L426.00,899.71M426.00,902.91L426.00,913.54M426.00,916.74L426.00,922.05" stroke="#000" stroke-width="1.7" fill="none" stroke-linecap="butt"/>
<path d="M511.40,866.75L511.40,872.06M511.40,875.26L511.40,885.89M511.40,889.09L511.40,899.71M511.40,902.91L511.40,913.54M511.40,916.74L511.40,922.05" stroke="#000" stroke-width="1.7" fill="none" stroke-linecap="butt"/>
<path d="M445.1,870.6 L448.3,867.6 L451.5,870.6" fill="none" stroke="#000" stroke-width="1.1"/>
<line x1="448.3" y1="867.6" x2="448.3" y2="877.5" stroke="#000" stroke-width="1.0" />
<path d="M445.1,880.5 L448.3,877.5 L451.5,880.5" fill="none" stroke="#000" stroke-width="1.1"/>
<rect x="437.05" y="882.15" width="22.99999999999999" height="29.400000000000023" fill="#efefef" stroke="#000" stroke-width="1.7"/>
<path d="M445.1,886.0 L448.3,883.0 L451.5,886.0" fill="none" stroke="#000" stroke-width="0.9"/>
<path d="M445.1,907.6999999999999 L448.3,910.6999999999999 L451.5,907.6999999999999" fill="none" stroke="#000" stroke-width="0.9"/>
<line x1="448.3" y1="883.0" x2="448.3" y2="910.6999999999999" stroke="#555" stroke-width="1.0" />
<rect x="445.3" y="887.3499999999999" width="6" height="3" fill="#999" stroke="#000" stroke-width="1.2"/>
<rect x="445.3" y="903.6499999999999" width="6" height="3" fill="#999" stroke="#000" stroke-width="1.2"/>
<circle cx="448.3" cy="896.8499999999999" r="7.2" fill="#fff" stroke="#000" stroke-width="1.3"/>
<text x="448.3" y="900.25" style="font-size:8.2px;" fill="#111" text-anchor="middle" letter-spacing="0">M</text>
<text x="470.2" y="888.90" style="font-size:10.5px;" fill="#000"  letter-spacing="0.08" stroke="#000" stroke-width="0.12">ABS</text>
<text x="470.2" y="899.50" style="font-size:10.5px;" fill="#000"  letter-spacing="0.08" stroke="#000" stroke-width="0.12">Pump</text>
<text x="470.2" y="910.60" style="font-size:10.5px;" fill="#000"  letter-spacing="0.08" stroke="#000" stroke-width="0.12">Motor</text>
<text x="427.6" y="935.70" style="font-size:10.5px;" fill="#000"  letter-spacing="0.08" stroke="#000" stroke-width="0.12">ABS/TCS</text>
<text x="427.6" y="946.70" style="font-size:10.5px;" fill="#000"  letter-spacing="0.08" stroke="#000" stroke-width="0.12">Modulator Unit</text>
<text x="427.6" y="959.10" style="font-size:10.4px;" fill="#0e0eb8" stroke="#0e0eb8" stroke-width="0.3" letter-spacing="0.18">page 44-6</text>
<text x="427.6" y="970.60" style="font-size:8px;font-style:italic;" fill="#0e0eb8" stroke="#0e0eb8" stroke-width="0.18" letter-spacing="0">PHOTO 67</text>
<text x="427.6" y="979.40" style="font-size:8px;font-style:italic;" fill="#0e0eb8" stroke="#0e0eb8" stroke-width="0.18" letter-spacing="0">VIEW 77</text>
<circle cx="80.1" cy="995" r="4.6" fill="none" stroke="#000" stroke-width="0.9"/>
<text x="80.1" y="998.00" style="font-size:8px;" fill="#000" text-anchor="middle" letter-spacing="0">C</text>
<text x="85.5" y="1001.10" style="font-size:10px;" fill="#000" letter-spacing="0.05">2002 American Honda Motor Co., Inc.</text>
<text x="73.5" y="1027.50" style="font-size:24px;font-weight:bold;" fill="#000" textLength="46.5" lengthAdjust="spacingAndGlyphs" stroke="#000" stroke-width="0.4">10-2</text>
<rect x="151.8" y="1011" width="120.80000000000001" height="20.799999999999955" fill="#000"/>
<rect x="153.20000000000002" y="1012.3" width="117.4" height="17.499999999999954" fill="#fff"/>
<rect x="153.20000000000002" y="1028.6" width="117.4" height="1.2" fill="#c8c8c8"/>
<rect x="269.40000000000003" y="1012.3" width="1.2" height="17.499999999999954" fill="#c8c8c8"/>
<text x="212.20000000000002" y="1024.90" style="font-size:10.5px;" fill="#000" text-anchor="middle" letter-spacing="0" stroke="#000" stroke-width="0.12">Menu</text>
<rect x="279.2" y="1011" width="120.5" height="20.799999999999955" fill="#000"/>
<rect x="280.59999999999997" y="1012.3" width="117.1" height="17.499999999999954" fill="#fff"/>
<rect x="280.59999999999997" y="1028.6" width="117.1" height="1.2" fill="#c8c8c8"/>
<rect x="396.5" y="1012.3" width="1.2" height="17.499999999999954" fill="#c8c8c8"/>
<text x="339.45" y="1024.90" style="font-size:10.5px;" fill="#000" text-anchor="middle" letter-spacing="0" stroke="#000" stroke-width="0.12">Circuit Index</text>
<rect x="760.9" y="1012.1" width="20.2" height="19.7" fill="#fff" stroke="#000" stroke-width="1.8"/>
<line x1="762.5" y1="1030.1000000000001" x2="780" y2="1030.1000000000001" stroke="#c8c8c8" stroke-width="1"/>
<line x1="779.4" y1="1013.7" x2="779.4" y2="1030.7" stroke="#c8c8c8" stroke-width="1"/>
<path d="M768.7,1022.2 L775.8,1018.0 L775.8,1026.4 Z" fill="#000"/>
<rect x="785.9" y="1012.1" width="20.2" height="19.7" fill="#fff" stroke="#000" stroke-width="1.8"/>
<line x1="787.5" y1="1030.1000000000001" x2="805" y2="1030.1000000000001" stroke="#c8c8c8" stroke-width="1"/>
<line x1="804.4" y1="1013.7" x2="804.4" y2="1030.7" stroke="#c8c8c8" stroke-width="1"/>
<path d="M793.3,1018.0 L800.8,1022.2 L793.3,1026.4 Z" fill="#000"/>
</svg></body></html>
